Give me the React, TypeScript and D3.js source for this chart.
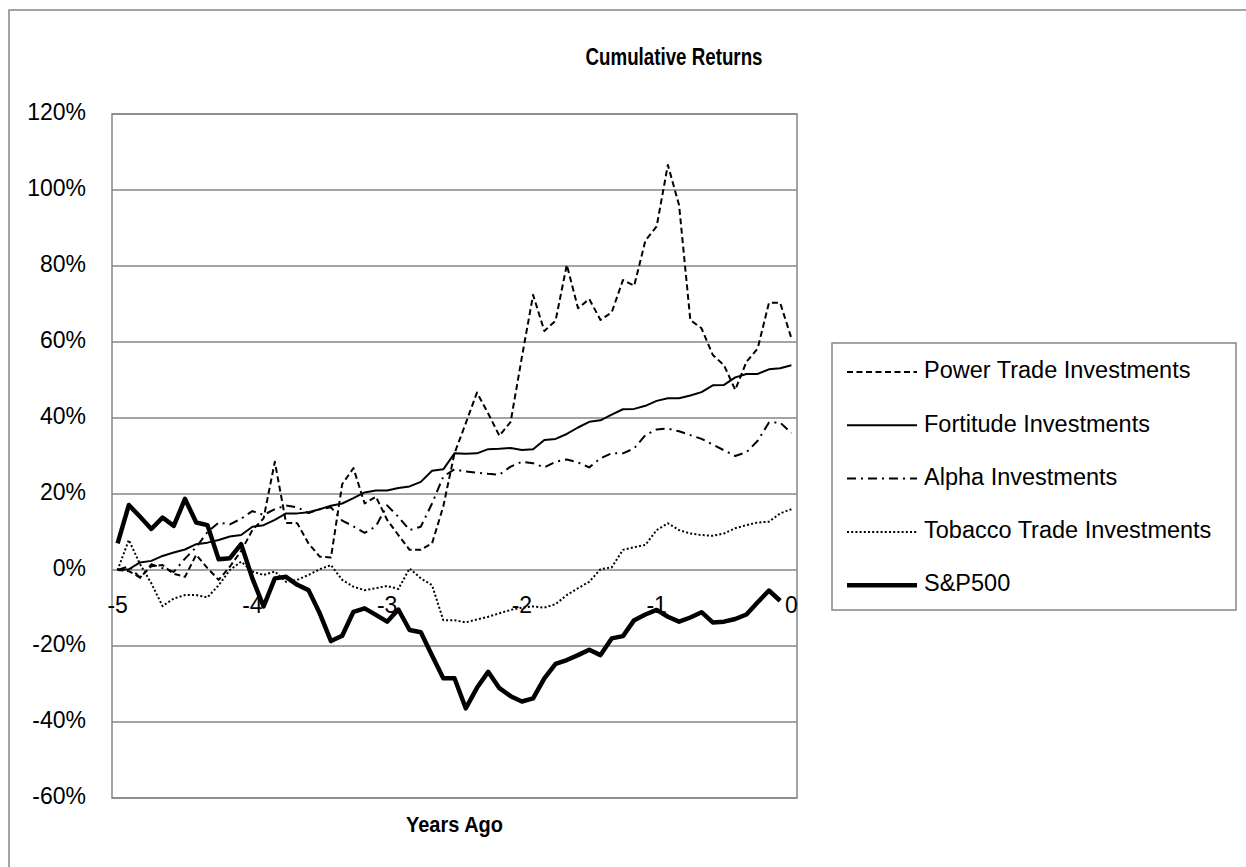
import * as d3 from "d3";

// monthly points, 5 years back to today (61 months)
const months = d3.range(61);
const tickIndex = [0, 12, 24, 36, 48, 60];
const tickLabels = ["-5", "-4", "-3", "-2", "-1", "0"];
const yTicks = [-60, -40, -20, 0, 20, 40, 60, 80, 100, 120];

const powerTrade = [
  0, -0.3, -2, 1, 1.3, -1, -1.8, 4, 0.5, -2.6,
  0.9, 5, 10.5, 13.6, 28.5, 12.4, 12.3, 7, 3.5, 3.3,
  22.6, 26.8, 17.5, 19.3, 13.2, 9.2, 5.3, 5.3, 7, 16.7,
  30.7, 38.6, 46.7, 41.2, 35.3, 39, 56, 72.4, 62.9, 65.6,
  80.3, 68.9, 71.3, 65.8, 67.8, 76.3, 74.8, 86.7, 90.4, 106.6,
  96, 65.8, 63.6, 56.6, 53.9, 47.4, 54.8, 58.3, 70.3, 70.3, 61,
];
const fortitude = [
  0, 0.2, 2, 2.4, 3.7, 4.6, 5.4, 6.8, 7.2, 7.9,
  8.8, 9.2, 11.4, 11.8, 13.2, 14.9, 14.9, 15.2, 16, 16.9,
  17.5, 18.9, 20.4, 20.9, 20.9, 21.6, 22, 23.2, 26.1, 26.5,
  30.7, 30.6, 30.7, 31.8, 31.9, 32.1, 31.6, 31.8, 34.2, 34.5,
  35.8, 37.5, 39, 39.4, 40.9, 42.3, 42.4, 43.2, 44.5, 45.2,
  45.2, 45.9, 46.8, 48.6, 48.7, 50.7, 51.6, 51.6, 52.8, 53.1, 53.9,
];
const alpha = [
  0, 1, -2, 1.5, 0.5, -0.5, 3, 6, 10, 12.5,
  12, 13.5, 15.5, 14.5, 16, 17, 16.5, 15, 16, 16.5,
  13, 11.5, 9.8, 11.5, 17, 14, 10.5, 11.4, 17.5, 24.6,
  26.5, 25.9, 25.6, 25.3, 25.1, 27.2, 28.5, 28.1, 27, 28.5,
  29.1, 28.3, 27, 29.4, 30.7, 30.7, 32, 35.5, 37, 37.2,
  36.5, 35.5, 34.5, 33, 31.5, 30, 31, 34, 38.8, 38.8, 36,
];
const tobacco = [
  0, 7.9, 1.5, -3.5, -9.5, -7.5, -6.6, -6.6, -7.2, -4,
  0, 2.2, -0.4, -1.3, -0.4, -3.1, -2.6, -1.3, 0.2, 1.3,
  -2.6, -4.4, -5.3, -4.8, -4.2, -5, 0.4, -2.2, -4, -13.2,
  -13.2, -13.8, -13, -12.3, -11.4, -10.5, -9.9, -9.6, -9.9, -9,
  -6.6, -4.8, -3.1, 0.2, 0.7, 5.3, 6, 6.6, 10.5, 12.3,
  10.5, 9.6, 9.2, 9, 9.6, 11, 11.8, 12.5, 12.7, 14.9, 16,
];
const sp500 = [
  7, 17.1, 14, 10.8, 13.8, 11.6, 18.7, 12.5, 11.8, 2.8,
  3.1, 6.8, -2.2, -9.6, -2.2, -1.8, -3.9, -5.3, -11.4, -18.7,
  -17.3, -11, -10.1, -11.8, -13.6, -10.4, -15.8, -16.4, -22.5, -28.5,
  -28.5, -36.4, -31, -26.8, -31.1, -33.2, -34.6, -33.8, -28.5, -24.7,
  -23.7, -22.4, -21, -22.4, -18, -17.4, -13.2, -11.7, -10.5, -12.3,
  -13.6, -12.5, -11.1, -13.8, -13.6, -12.9, -11.7, -8.5, -5.4, -8.1, null,
];

const seriesNames = [
  "Power Trade Investments",
  "Fortitude Investments",
  "Alpha Investments",
  "Tobacco Trade Investments",
  "S&P500",
];
const seriesValues = [powerTrade, fortitude, alpha, tobacco, sp500];
const styles = [
  { w: 2, dash: "6,3.5" },
  { w: 2, dash: "" },
  { w: 2, dash: "9,5,2,5" },
  { w: 2, dash: "2,2.2" },
  { w: 4.5, dash: "" },
];

const FONT = "'Liberation Sans', Arial, sans-serif";
const GRID = "#868686";

export default function App() {
  const left = 112, right = 797, top = 114, bottom = 798;

  const x = d3.scalePoint<number>().domain(months).range([left, right]).padding(0.5);
  const y = d3.scaleLinear().domain([-60, 120]).range([bottom, top]);

  const line = d3
    .line<number | null>()
    .defined((d) => d !== null)
    .x((_, i) => x(i) as number)
    .y((d) => y(d as number));

  const legX = 832, legY = 343;

  return (
    <div style={{ position: "absolute", left: 0, top: 0 }}>
      <svg width={1246} height={867} style={{ display: "block", background: "#fff" }}>
        <rect x={9} y={10} width={1300} height={900} fill="#fff" stroke={GRID} strokeWidth={1.5} />

        <text x={674} y={59} textAnchor="middle" dominantBaseline="middle"
          fontFamily={FONT} fontWeight="bold" fontSize={23}
          textLength={177} lengthAdjust="spacingAndGlyphs">Cumulative Returns</text>

        {yTicks.map((t) => (
          <g key={t}>
            <line x1={left} x2={right} y1={y(t)} y2={y(t)} stroke={GRID} strokeWidth={1.5} />
            <text x={86} y={y(t)} textAnchor="end" dominantBaseline="middle"
              fontFamily={FONT} fontSize={23}>{t}%</text>
          </g>
        ))}
        <rect x={left} y={top} width={right - left} height={bottom - top}
          fill="none" stroke={GRID} strokeWidth={1.5} />

        {tickIndex.map((ti, k) => (
          <text key={ti} x={x(ti)} y={607} textAnchor="middle" dominantBaseline="middle"
            fontFamily={FONT} fontSize={23}>{tickLabels[k]}</text>
        ))}

        {seriesValues.map((vals, k) => (
          <path key={seriesNames[k]} d={line(vals) || ""} fill="none" stroke="#000"
            strokeWidth={styles[k].w} strokeDasharray={styles[k].dash}
            strokeLinejoin="round" />
        ))}

        <text x={(left + right) / 2} y={826} textAnchor="middle" dominantBaseline="middle"
          fontFamily={FONT} fontWeight="bold" fontSize={22}
          textLength={97} lengthAdjust="spacingAndGlyphs">Years Ago</text>

        <rect x={legX} y={legY} width={404} height={267} fill="#fff" stroke={GRID} strokeWidth={1.5} />
        {seriesNames.map((name, k) => {
          const ly = 372 + k * 53.3;
          return (
            <g key={name}>
              <line x1={847} x2={917} y1={ly} y2={ly} stroke="#000"
                strokeWidth={styles[k].w} strokeDasharray={styles[k].dash} />
              <text x={924} y={ly} dominantBaseline="middle" fontFamily={FONT} fontSize={23.5}>{name}</text>
            </g>
          );
        })}
      </svg>
    </div>
  );
}
